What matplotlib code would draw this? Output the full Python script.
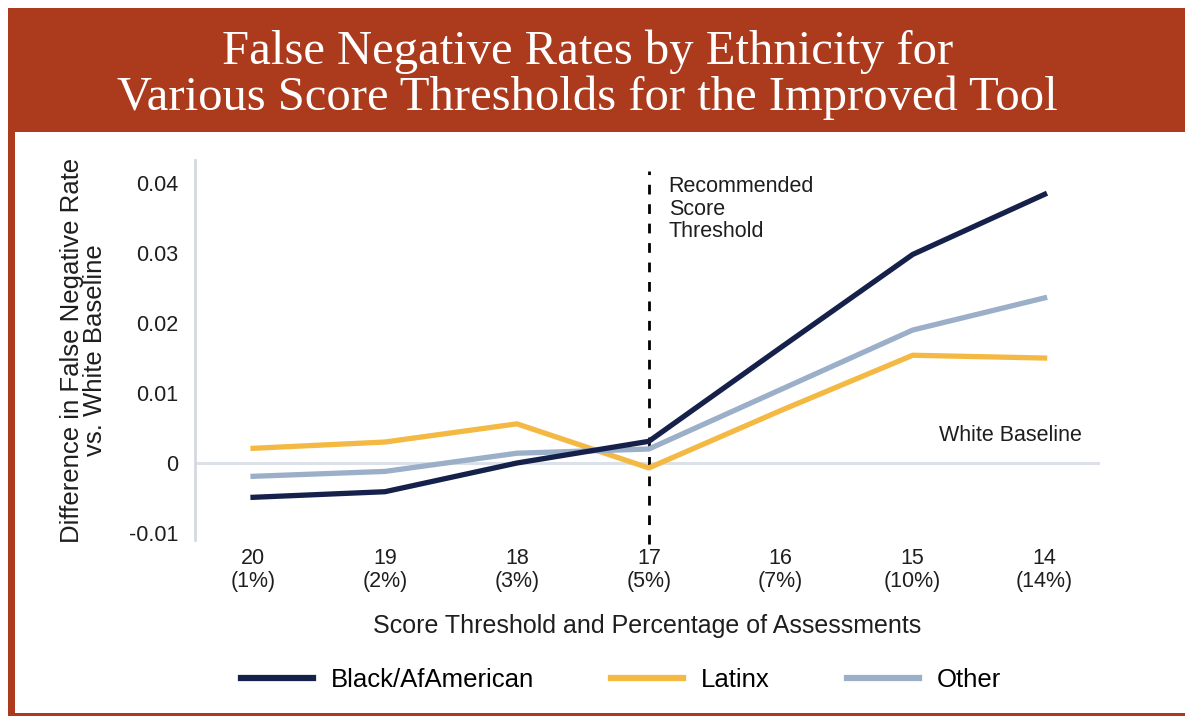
import matplotlib
matplotlib.use("Agg")
import matplotlib.pyplot as plt
from matplotlib.patches import Rectangle

plt.rcParams['font.family'] = ['Liberation Sans', 'DejaVu Sans']

thresholds = ['20\n(1%)', '19\n(2%)', '18\n(3%)', '17\n(5%)', '16\n(7%)', '15\n(10%)', '14\n(14%)']
black = [-0.0049, -0.0041, 0.0000, 0.0031, 0.0165, 0.0298, 0.0384]
latinx = [0.0021, 0.0030, 0.0056, -0.0007, 0.0075, 0.0154, 0.0150]
other = [-0.0019, -0.0012, 0.0014, 0.0020, 0.0105, 0.0190, 0.0236]
yticks = [-0.01, 0, 0.01, 0.02, 0.03, 0.04]
ytick_labels = ['-0.01', '0', '0.01', '0.02', '0.03', '0.04']

W, H = 1185, 717
rust = '#AC3A1C'
txt = '#1E1E1E'
fig = plt.figure(figsize=(W / 100, H / 100), dpi=100)
fig.patch.set_facecolor('white')

# frame: header band, left border and bottom border
fig.patches.append(Rectangle((8 / W, 1 - 132 / H), 1 - 8 / W, 124 / H, transform=fig.transFigure,
                             facecolor=rust, edgecolor='none', zorder=0))
fig.patches.append(Rectangle((8 / W, 1 - 716 / H), 7 / W, 584 / H, transform=fig.transFigure,
                             facecolor=rust, edgecolor='none', zorder=0))
fig.patches.append(Rectangle((8 / W, 1 - 716 / H), 1 - 8 / W, 3 / H, transform=fig.transFigure,
                             facecolor=rust, edgecolor='none', zorder=0))

fig.text(0.496, 1 - 75 / H, 'False Negative Rates by Ethnicity for\nVarious Score Thresholds for the Improved Tool',
         ha='center', va='center', color='white', fontsize=35, family='Liberation Serif', linespacing=1.05)

ax = fig.add_axes([195 / W, 177 / H, 905 / W, 380 / H])
x = list(range(len(thresholds)))

ax.axhline(0, color='#DCE0E8', lw=2.2, zorder=1)
ax.axvline(3, color='black', lw=2, ls=(0, (3.5, 3.5)), ymin=-0.01, ymax=0.97, zorder=2, clip_on=False)

ax.plot(x, black, color='#15214B', lw=3.8, label='Black/AfAmerican', zorder=5)
ax.plot(x, latinx, color='#F4B942', lw=3.8, label='Latinx', zorder=3)
ax.plot(x, other, color='#9BAFC9', lw=3.8, label='Other', zorder=4)

ax.set_xlim(-0.44, 6.42)
ax.set_ylim(-0.011, 0.0433)
ax.set_xticks(x)
ax.set_xticklabels(thresholds, fontsize=15.5, color=txt, linespacing=1.1)
ax.set_yticks(yticks)
ax.set_yticklabels(ytick_labels, fontsize=15.5, color=txt)
ax.tick_params(length=0)
ax.tick_params(axis='x', pad=6)
ax.tick_params(axis='y', pad=12)

for s in ['top', 'right', 'bottom']:
    ax.spines[s].set_visible(False)
ax.spines['left'].set_color('#D5D8DE')
ax.spines['left'].set_linewidth(2)

ax.set_ylabel('Difference in False Negative Rate\nvs. White Baseline', fontsize=18.5, color=txt,
              labelpad=16, linespacing=0.95)
ax.set_xlabel('Score Threshold and Percentage of Assessments', fontsize=18, color=txt, labelpad=16)

ax.text(3.15, 0.0410, 'Recommended\nScore\nThreshold', fontsize=15.5, va='top', ha='left',
        color=txt, linespacing=1.1)
ax.text(5.2, 0.0025, 'White Baseline', fontsize=15.5, va='bottom', ha='left', color=txt)

fig.legend(loc='center', bbox_to_anchor=(0.524, 1 - 680 / H), ncol=3, frameon=False, fontsize=18.5,
           handlelength=2.8, handletextpad=0.7, columnspacing=3.0)
for line in fig.legends[0].get_lines():
    line.set_linewidth(4.5)

fig.savefig('out.png', dpi=100, facecolor=fig.get_facecolor())
